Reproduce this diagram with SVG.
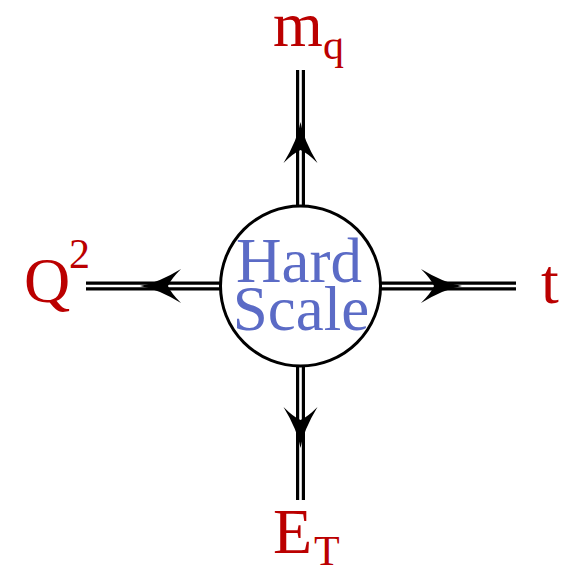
<svg xmlns="http://www.w3.org/2000/svg" width="573" height="570" viewBox="0 0 573 570">
<style>
.outer{stroke:#000;stroke-width:9;fill:none}
.inner{stroke:#fff;stroke-width:2.6;fill:none}
.lbl{font-family:"Liberation Serif","Times New Roman",serif;fill:#bb0000}
.big{font-size:64px}
.sub{font-size:42px}
.hs{font-family:"Liberation Serif","Times New Roman",serif;font-size:63px;fill:#5b6bc6;text-anchor:middle}
</style>
<defs>
<path id="ah" d="M0,0 Q-18,3 -41,17 Q-31,7 -28,0 Q-31,-7 -41,-17 Q-18,-3 0,0 Z" fill="#000"/>
</defs>
<rect width="573" height="570" fill="#fff"/>
<g id="connectors">
<path class="outer" d="M300.5,70V206M300.5,366V500M86,286H220M381,286H516"/>
<path class="inner" d="M300.5,70V206M300.5,366V500M86,286H220M381,286H516"/>
<use href="#ah" transform="translate(300.5,122) rotate(-90)"/>
<use href="#ah" transform="translate(300.5,448) rotate(90)"/>
<use href="#ah" transform="translate(140,286) rotate(180)"/>
<use href="#ah" transform="translate(462,286)"/>
</g>
<g id="hard-scale">
<circle cx="300.5" cy="286" r="80" fill="#fff" stroke="#000" stroke-width="3"/>
<text class="hs" x="299" y="282">Hard</text>
<text class="hs" x="301" y="330">Scale</text>
</g>
<g id="mq">
<text class="lbl big" x="273" y="46">m</text>
<text class="lbl sub" x="323" y="59">q</text>
</g>
<g id="Q2">
<text class="lbl big" x="24" y="302">Q</text>
<text class="lbl sub" x="69" y="268">2</text>
</g>
<g id="t">
<text class="lbl big" x="541" y="303">t</text>
</g>
<g id="ET">
<text class="lbl big" x="273" y="553">E</text>
<text class="lbl sub" x="314" y="565">T</text>
</g>
</svg>
